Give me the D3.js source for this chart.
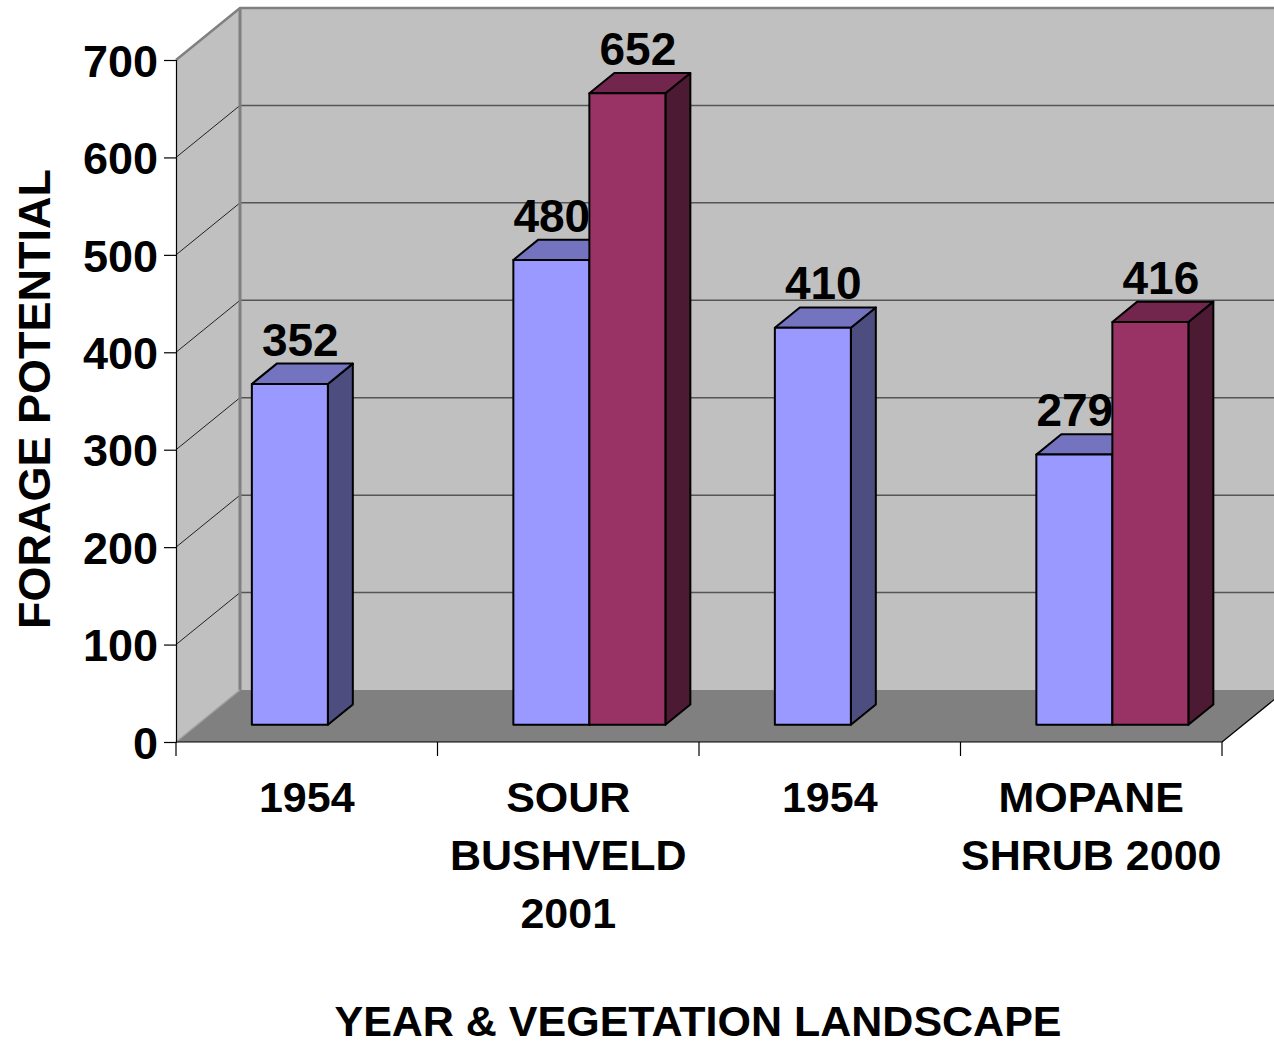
<!DOCTYPE html>
<html>
<head>
<meta charset="utf-8">
<script src="https://cdn.jsdelivr.net/npm/d3@7"></script>
<style>
  body { margin: 0; background: #fff; }
  svg { display: block; font-family: "Liberation Sans", Arial, sans-serif; font-weight: bold; }
</style>
</head>
<body>
<svg width="1274" height="1044"></svg>
<script>
// chart data
var categories = [["1954"], ["SOUR", "BUSHVELD", "2001"], ["1954"], ["MOPANE", "SHRUB 2000"]];
var seriesNames = ["first", "second"];
var firstValues = [352, 480, 410, 279];
var secondValues = [null, 652, null, 416];
var yTicks = [0, 100, 200, 300, 400, 500, 600, 700];

var colors = {
    first: { front: "#9999ff", top: "#7373bf", side: "#4d4d80" },
    second: { front: "#993366", top: "#73264d", side: "#4d1a33" }
};

var svg = d3.select("svg");

// front plane of the 3d box, and the depth offset of the back wall
var pLeft = 176, pRight = 1222, pBottom = 742, pTop = 60;
var depthX = 64, depthY = 52;
var barZ0 = 0.33, barZ1 = 0.72;

var y = d3.scaleLinear().domain([0, 700]).range([pBottom, pTop]);
// bars sit a bit deeper in the box, so their value scale is slightly flatter
var yBar = d3.scaleLinear().domain([0, 700]).range([pBottom, pTop + 4]);
var x0 = d3.scaleBand().domain(d3.range(categories.length)).range([pLeft, pRight]);
var x1 = d3.scaleBand().domain(seriesNames).range([0, x0.bandwidth()]).paddingOuter(0.72);

function proj(px, v, z, sc) {
    sc = sc || y;
    return [px + depthX * z, sc(v) - depthY * z];
}
function bp(px, v, z) { return proj(px, v, z, yBar); }
function poly(pts) { return "M" + pts.map(function (p) { return p.join(","); }).join("L") + "Z"; }

var g = svg.append("g");

// left wall
g.append("path")
    .attr("d", poly([proj(pLeft, 0, 0), proj(pLeft, 700, 0), proj(pLeft, 700, 1), proj(pLeft, 0, 1)]))
    .attr("fill", "#c0c0c0");
// back wall
g.append("path")
    .attr("d", poly([proj(pLeft, 0, 1), proj(pLeft, 700, 1), proj(pRight + 80, 700, 1), proj(pRight + 80, 0, 1)]))
    .attr("fill", "#c0c0c0");
// floor
g.append("path")
    .attr("d", poly([proj(pLeft, 0, 0), proj(pRight, 0, 0), proj(pRight, 0, 1), proj(pLeft, 0, 1)]))
    .attr("fill", "#808080");

// gridlines on back wall and left wall
yTicks.slice(1).forEach(function (t) {
    var a = proj(pLeft, t, 0), b = proj(pLeft, t, 1), c = proj(pRight + 80, t, 1);
    g.append("line")
        .attr("x1", a[0]).attr("y1", a[1]).attr("x2", b[0]).attr("y2", b[1])
        .attr("stroke", "#222").attr("stroke-width", 1);
    g.append("line")
        .attr("x1", b[0]).attr("y1", b[1]).attr("x2", c[0]).attr("y2", c[1])
        .attr("stroke", "#555").attr("stroke-width", 1.5);
});

// wall edges
var tl = proj(pLeft, 700, 0), tb = proj(pLeft, 700, 1), bb = proj(pLeft, 0, 1), b0 = proj(pLeft, 0, 0);
g.append("path")
    .attr("d", "M" + tl + "L" + tb + "L" + (pRight + 80) + "," + tb[1])
    .attr("fill", "none").attr("stroke", "#808080").attr("stroke-width", 2.5);
g.append("line")
    .attr("x1", tb[0]).attr("y1", tb[1]).attr("x2", bb[0]).attr("y2", bb[1])
    .attr("stroke", "#808080").attr("stroke-width", 3);
g.append("line")
    .attr("x1", b0[0]).attr("y1", b0[1]).attr("x2", bb[0]).attr("y2", bb[1])
    .attr("stroke", "#a0a0a0").attr("stroke-width", 1.5);

// floor right edge
var fr = proj(pRight, 0, 0), fr1 = proj(pRight, 0, 1);
g.append("line")
    .attr("x1", fr[0]).attr("y1", fr[1]).attr("x2", fr1[0]).attr("y2", fr1[1])
    .attr("stroke", "#000").attr("stroke-width", 1.2);

// bars
var bars = [];
categories.forEach(function (c, i) {
    [firstValues[i], secondValues[i]].forEach(function (v, j) {
        if (v == null) return;
        bars.push({ cat: i, series: seriesNames[j], value: v });
    });
});

var barG = g.selectAll(".bar")
    .data(bars)
    .enter().append("g")
    .attr("class", "bar");

function barX(d) { return x0(d.cat) + x1(d.series); }

barG.append("path")
    .attr("d", function (d) {
        var xr = barX(d) + x1.bandwidth();
        return poly([bp(xr, 0, barZ0), bp(xr, d.value, barZ0), bp(xr, d.value, barZ1), bp(xr, 0, barZ1)]);
    })
    .attr("fill", function (d) { return colors[d.series].side; });
barG.append("path")
    .attr("d", function (d) {
        var xl = barX(d), xr = xl + x1.bandwidth();
        return poly([bp(xl, d.value, barZ0), bp(xr, d.value, barZ0), bp(xr, d.value, barZ1), bp(xl, d.value, barZ1)]);
    })
    .attr("fill", function (d) { return colors[d.series].top; });
barG.append("path")
    .attr("d", function (d) {
        var xl = barX(d), xr = xl + x1.bandwidth();
        return poly([bp(xl, 0, barZ0), bp(xl, d.value, barZ0), bp(xr, d.value, barZ0), bp(xr, 0, barZ0)]);
    })
    .attr("fill", function (d) { return colors[d.series].front; });
barG.selectAll("path")
    .attr("stroke", "#000").attr("stroke-width", 2).attr("stroke-linejoin", "round");

// value labels
g.selectAll(".vlabel")
    .data(bars)
    .enter().append("text")
    .attr("class", "vlabel")
    .attr("x", function (d) {
        var shift = (d.series === "first" && secondValues[d.cat] != null) ? -10 : 0;
        return bp(barX(d) + x1.bandwidth() / 2, d.value, (barZ0 + barZ1) / 2)[0] - 2 + shift;
    })
    .attr("y", function (d) { return bp(0, d.value, barZ1)[1] - 8; })
    .attr("text-anchor", "middle")
    .attr("font-size", 46)
    .attr("fill", "#000")
    .text(function (d) { return d.value; });

// y axis
var yAxis = d3.axisLeft(y).tickValues(yTicks).tickSize(12).tickPadding(6);
var ya = svg.append("g").attr("transform", "translate(" + pLeft + ",0)").call(yAxis);
ya.select(".domain").attr("stroke", "#000").attr("stroke-width", 1.2);
ya.selectAll(".tick line").attr("stroke", "#000").attr("stroke-width", 1.2);
ya.selectAll(".tick text")
    .attr("font-size", 45).attr("font-family", "'Liberation Sans', Arial, sans-serif")
    .attr("font-weight", "bold").attr("fill", "#000").attr("dy", "0.36em");

// x axis
var xa = svg.append("g");
xa.append("line")
    .attr("x1", pLeft).attr("x2", pRight).attr("y1", pBottom).attr("y2", pBottom)
    .attr("stroke", "#000").attr("stroke-width", 1.2);
xa.selectAll(".xtick")
    .data(d3.range(categories.length + 1))
    .enter().append("line")
    .attr("x1", function (i) { return i < categories.length ? x0(i) : pRight; })
    .attr("x2", function (i) { return i < categories.length ? x0(i) : pRight; })
    .attr("y1", pBottom).attr("y2", pBottom + 14)
    .attr("stroke", "#000").attr("stroke-width", 1.2);

var catText = xa.selectAll(".cat")
    .data(categories)
    .enter().append("text")
    .attr("class", "cat")
    .attr("text-anchor", "middle")
    .attr("font-size", 43)
    .attr("fill", "#000");
catText.selectAll("tspan")
    .data(function (d, i) { return d.map(function (s) { return { s: s, i: i }; }); })
    .enter().append("tspan")
    .attr("x", function (d) { return x0(d.i) + x0.bandwidth() / 2; })
    .attr("y", function (d, k) { return 812 + k * 58; })
    .text(function (d) { return d.s; });

// axis titles
svg.append("text")
    .attr("x", 698).attr("y", 1036)
    .attr("text-anchor", "middle").attr("font-size", 43).attr("fill", "#000")
    .text("YEAR & VEGETATION LANDSCAPE");
svg.append("text")
    .attr("transform", "translate(50,399) rotate(-90)")
    .attr("text-anchor", "middle").attr("font-size", 45).attr("fill", "#000")
    .text("FORAGE POTENTIAL");
</script>
</body>
</html>
